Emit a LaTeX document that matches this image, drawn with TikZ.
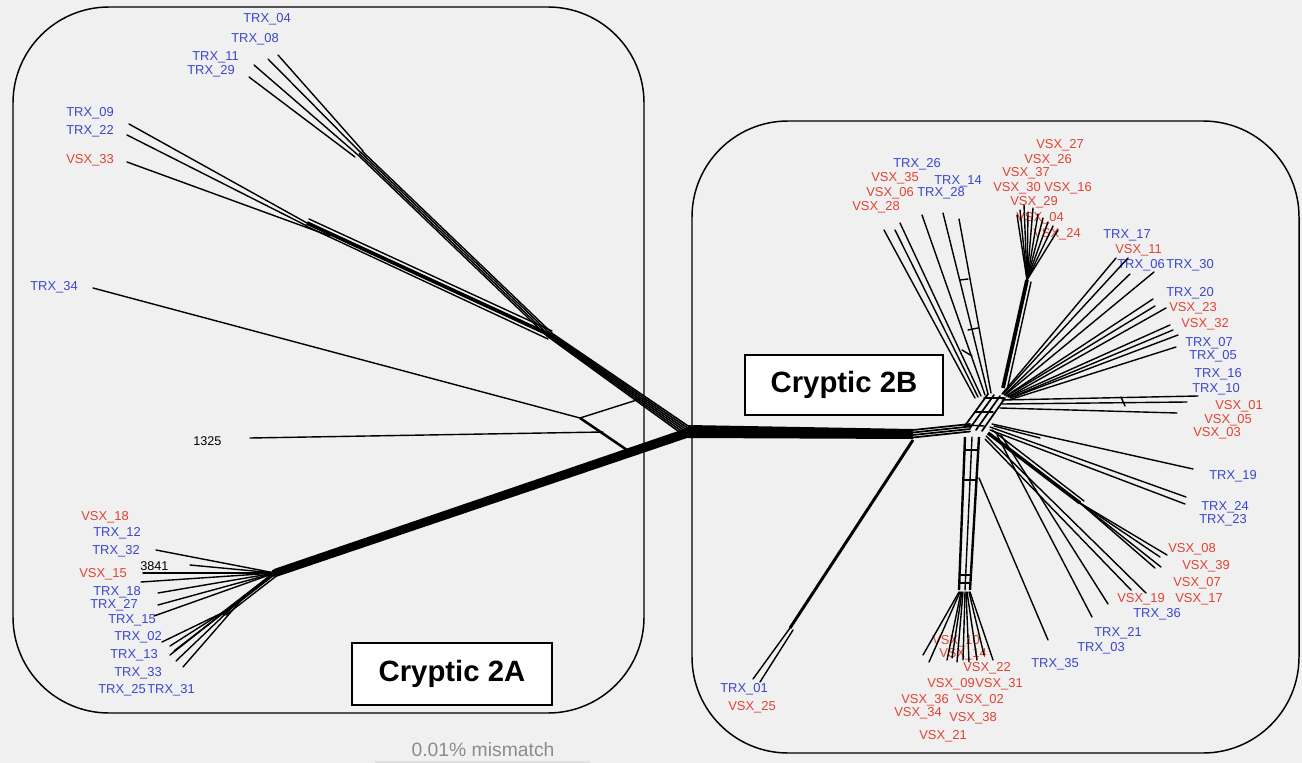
\documentclass[tikz,border=0pt]{standalone}
\usepackage{fontspec}
\setmainfont{Liberation Sans}
\usetikzlibrary{calc}
\definecolor{bg}{RGB}{240,240,240}
\definecolor{tblue}{RGB}{58,70,205}
\definecolor{vred}{RGB}{226,66,50}
\definecolor{mgray}{RGB}{140,140,140}
\begin{document}
\begin{tikzpicture}[x=0.75pt,y=-0.75pt,
  br/.style={line width=1.05pt, line cap=round},
  lab/.style={inner sep=0pt, anchor=west, font=\fontsize{9.7}{11}\selectfont},
  tb/.style={lab, text=tblue},
  vs/.style={lab, text=vred},
  num/.style={lab, text=black, font=\fontsize{9.5}{11}\selectfont},
  region/.style={draw=black, line width=1.1pt, rounded corners=72pt},
  cbox/.style={draw=black, fill=white, line width=0.9pt, inner sep=0pt,
    font=\bfseries\fontsize{22}{26}\selectfont, minimum width=150pt, minimum height=46.5pt}]

\fill[bg] (0,0) rectangle (1302,763);
\useasboundingbox (0,0) rectangle (1302,763);

% ---------- labels (left) ----------
\foreach \nm/\t/\x/\y in {T04/TRX\_04/243/19, T08/TRX\_08/231/39, T11/TRX\_11/192/57,
  T29/TRX\_29/187/71, T09/TRX\_09/66/113, T22/TRX\_22/66/131, T34/TRX\_34/30/287,
  T12/TRX\_12/93/533, T32/TRX\_32/92/551, T18/TRX\_18/93/592, T27/TRX\_27/90/605,
  T15/TRX\_15/108/620, T02/TRX\_02/114/637, T13/TRX\_13/110/655, T33/TRX\_33/114/673,
  T25/TRX\_25/98/690, T31/TRX\_31/147/690}
  \node[tb] (\nm) at (\x,\y) {\t};
\foreach \nm/\t/\x/\y in {V33/VSX\_33/66/160, V18/VSX\_18/81/517, V15/VSX\_15/79/574}
  \node[vs] (\nm) at (\x,\y) {\t};
\node[num] (n1325) at (193,441) {1325};
\node[num] (n3841) at (140,566) {3841};

% ---------- labels (right) ----------
\foreach \nm/\t/\x/\y in {T26/TRX\_26/893/164, T14/TRX\_14/934/181, T28/TRX\_28/917/193,
  T17/TRX\_17/1103/235, T06/TRX\_06/1117/265, T30/TRX\_30/1166/265, T20/TRX\_20/1166/293,
  T07/TRX\_07/1185/343, T05/TRX\_05/1189/356, T16/TRX\_16/1194/374, T10/TRX\_10/1192/389,
  T19/TRX\_19/1209/476, T24/TRX\_24/1201/507, T23/TRX\_23/1199/520, T36/TRX\_36/1133/614,
  T21/TRX\_21/1094/633, T03/TRX\_03/1077/648, T35/TRX\_35/1031/664, T01/TRX\_01/720/689}
  \node[tb] (\nm) at (\x,\y) {\t};
\foreach \nm/\t/\x/\y in {V35/VSX\_35/871/178, V06/VSX\_06/866/193, V28/VSX\_28/852/207,
  V27/VSX\_27/1036/145, V26/VSX\_26/1024/160, V37/VSX\_37/1002/173, V30/VSX\_30/993/188,
  V16/VSX\_16/1044/188, V29/VSX\_29/1010/202, V04/VSX\_04/1016/218, V24/VSX\_24/1033/234,
  V11/VSX\_11/1115/250, V23/VSX\_23/1169/308, V32/VSX\_32/1181/324, V01/VSX\_01/1215/406,
  V05/VSX\_05/1204/420, V03/VSX\_03/1193/433, V08/VSX\_08/1168/549, V39/VSX\_39/1182/566,
  V07/VSX\_07/1173/583, V19/VSX\_19/1117/599, V17/VSX\_17/1175/599, V25/VSX\_25/728/707,
  V10/VSX\_10/932/641, V14/VSX\_14/939/654, V22/VSX\_22/963/668, V09/VSX\_09/927/684,
  V31/VSX\_31/975/684, V36/VSX\_36/901/700, V02/VSX\_02/956/700, V34/VSX\_34/894/713,
  V38/VSX\_38/949/718, V21/VSX\_21/919/736}
  \node[vs] (\nm) at (\x,\y) {\t};

% ---------- region outlines ----------
\draw[region] (13,7) rectangle (644,713);
\draw[region] (692,121) rectangle (1299,753);

% ---------- left network ----------
\coordinate (L0) at (688,432);
\coordinate (LL) at (275,573);
\coordinate (UL) at (550,335);
\coordinate (UA) at (360,153);
\coordinate (UB) at (307,223);
\coordinate (LS) at (222,614);
\coordinate (P1) at (580,418);
\coordinate (P2) at (640,399);
\coordinate (P3) at (627,450);
\coordinate (P4) at (603,432);

% central bar
\fill (688,425) -- (913,429) -- (913,439) -- (688,438) -- cycle;
% thick branch to lower-left cluster
\fill (690,427) -- (690,437) -- (276,577) -- (274,569) -- cycle;
% upper bundle (parallel lines)
\foreach \dx/\dy in {-2.9/4.1, -1.7/2.5, -0.6/0.8, 0.6/-0.8, 1.7/-2.5, 2.9/-4.1}
  \draw[br, line width=1.2pt] ($(L0)+(\dx,\dy)$) -- ($(UL)+(0.5*\dx,0.5*\dy)$);
\draw[line width=2.8pt] (UL) -- (UB);
\draw[br] ($(UL)+(2,-4)$) -- ($(UB)+(2,-4)$);
\draw[br] ($(UL)+(-2,4)$) -- ($(UB)+(-1,3)$);
\foreach \dx/\dy in {-2/2, -0.7/0.7, 0.7/-0.7, 2/-2}
  \draw[br] ($(UL)+(\dx,\dy)$) -- ($(UA)+(\dx,\dy)$);
% TRX_04 fan
\foreach \ex/\ey/\bx/\by in {278/55/363/151, 268/59/361/153, 254/65/358/155, 249/77/355/157}
  \draw[br] (\ex,\ey) -- (\bx,\by);
% TRX_09 fan
\draw[br] (129,124) -- (UB);
\draw[br] (127,135) -- ($(UB)+(0,3)$);
\draw[br] (127,162) -- (330,236);
% TRX_34 and 1325
\draw[br] (93,288) -- (P1);
\draw[br] (P1) -- (P2);
\draw[line width=1.9pt] (P1) -- (P3);
\draw[br] (250,438) -- (P4);
% lower-left fan
\foreach \ex/\ey in {156/550, 190/565, 143/573, 141/582, 158/593, 158/605, 154/616}
  \draw[br] (\ex,\ey) -- (LL);
\fill (LL) circle (4);
\draw[line width=2.6pt] (LL) -- (LS);
\draw[br] ($(LL)+(4,1)$) -- ($(LS)+(4,1)$);
\foreach \ex/\ey/\bx/\by in {162/642/224/612, 170/646/228/609, 174/651/232/606,
  170/655/236/603, 176/661/240/600, 183/667/244/597}
  \draw[br] (\ex,\ey) -- (\bx,\by);

% ---------- right network ----------
\coordinate (RA) at (913,435);
\coordinate (RB) at (968,430);
\coordinate (VB) at (1027,280);
\coordinate (RT) at (790,628);

% bundle RA-RB
\foreach \o in {-5,-2.5,0,2.5}
  \draw[br, line width=1.3pt] (913,{435+\o}) -- (970,{429+\o});
% RB up to upper hub
\draw[br, line width=1.3pt] (964,427) -- (988,394);
\draw[br, line width=1.3pt] (970,428) -- (994,395);
\draw[br, line width=1.3pt] (976,430) -- (1000,396);
\draw[br, line width=1.3pt] (982,431) -- (1005,398);
\draw[br] (966,425) -- (984,426);
\draw[br] (975,412) -- (993,412);
\draw[br] (984,398) -- (1004,398);
% upper-left fan
\foreach \ex/\ey/\bx/\by in {884/230/975/398, 895/230/978/397, 900/223/981/396,
  922/215/985/395, 943/213/988/394, 959/219/991/393}
  \draw[br] (\ex,\ey) -- (\bx,\by);
\draw[br] (960,280) -- (968,279);
\draw[br] (968,330) -- (978,328);
\draw[br] (962,350) -- (972,356);
% VSX top fan
\foreach \ex/\ey in {1017/215, 1020/210, 1024/205, 1028/212, 1033/208, 1038/214,
  1043/218, 1048/222, 1053/226, 1058/230}
  \draw[br] (\ex,\ey) -- (VB);
\draw[line width=2.8pt] (VB) -- (1003,388);
\draw[br] (1031,282) -- (1007,390);
% right-up fan
\foreach \ex/\ey/\bx/\by in {1116/258/1002/394, 1128/258/1003/394, 1130/274/1004/395,
  1154/272/1005/395, 1153/299/1006/396, 1155/306/1007/396, 1166/308/1008/397,
  1170/325/1009/397, 1173/330/1010/398, 1178/335/1011/398, 1176/347/1012/399}
  \draw[br] (\ex,\ey) -- (\bx,\by);
% horizontal lines
\draw[br] (1002,400) -- (1198,396);
\draw[br] (1002,404) -- (1187,402);
\draw[br] (1000,408) -- (1177,413);
\draw[br] (1121,397) -- (1125,406);
% lower-right fan
\draw[br] (992,424) -- (1193,469);
\draw[br] (990,427) -- (1186,497);
\draw[br] (990,430) -- (1185,504);
\draw[br] (994,426) -- (1040,438);
\draw[line width=2.6pt] (988,433) -- (1080,503);
\draw[br] (992,430) -- (1084,501);
\foreach \ex/\ey in {1167/555, 1160/557, 1161/567, 1155/568}
  \draw[br] (\ex,\ey) -- (1080,503);
\draw[br] (986,436) -- (1146,593);
\draw[br] (985,439) -- (1131,590);
\draw[br] (1001,435) -- (1108,604);
\draw[br] (997,435) -- (1092,617);
\draw[br] (979,478) -- (1048,640);
% vertical bar
\draw[line width=1.8pt] (965,437) -- (959,590);
\draw[line width=1.8pt] (979,437) -- (970,590);
\draw[br] (972,437) -- (965,590);
\foreach \yy in {450,480,575,583}
  \draw[br] ({965-(\yy-437)*0.04},\yy) -- ({979-(\yy-437)*0.06},\yy);
% bottom VSX fan
\foreach \ex/\ey/\bx in {923/655/959, 929/662/960, 947/660/961, 952/658/962, 957/662/963,
  963/660/965, 969/662/966, 977/660/967, 984/655/969, 993/660/970}
  \draw[br] (\ex,\ey) -- (\bx,592);
% TRX_01 branch
\draw[line width=2.2pt] (913,440) -- (RT);
\draw[br] (RT) -- (753,679);
\draw[br] (793,630) -- (760,682);

% ---------- boxes and footer ----------
\node[cbox] (c2a) at (452,674) {Cryptic 2A};
\node[cbox, minimum width=148.5pt, minimum height=45pt] (c2b) at (844,385) {Cryptic 2B};
\node[text=mgray, inner sep=0pt, font=\fontsize{14.5}{16}\selectfont] (mm) at (483,750) {0.01\% mismatch};
\draw[black!12, line width=0.8pt] (375,762) -- (590,762);
\end{tikzpicture}
\end{document}
